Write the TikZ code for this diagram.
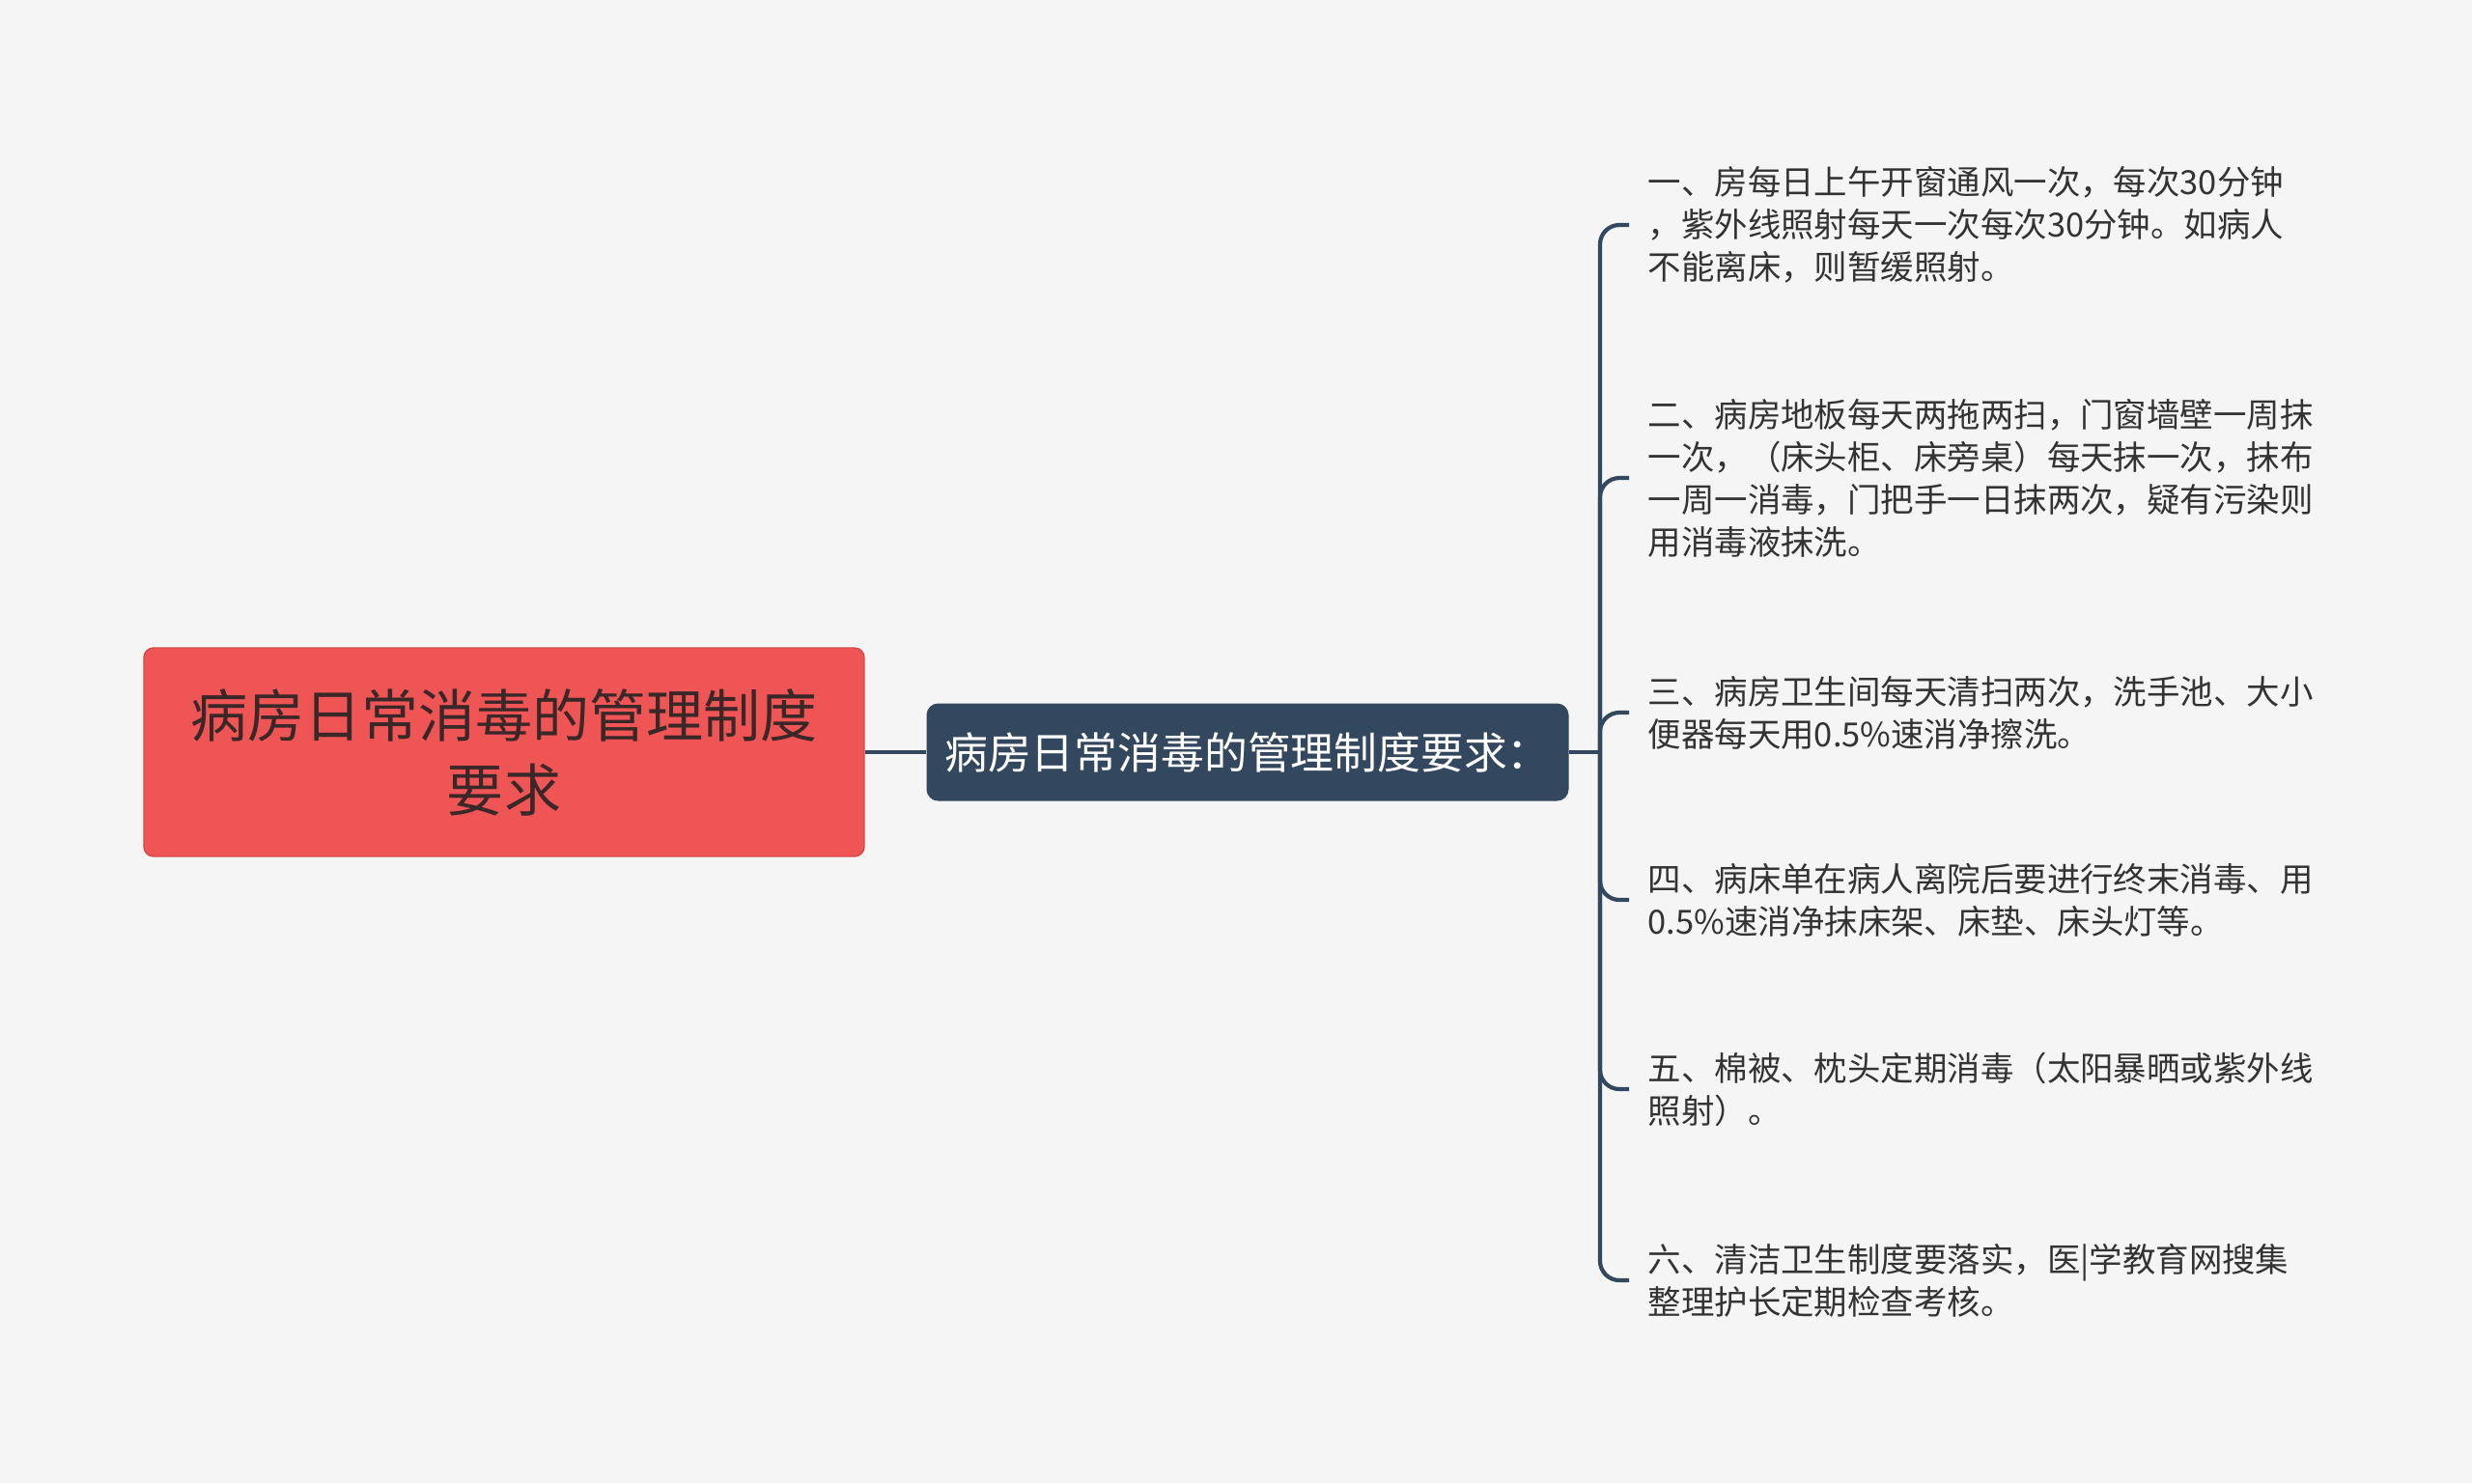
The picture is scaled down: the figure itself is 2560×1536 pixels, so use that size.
\documentclass[tikz,border=0pt]{standalone}
\usepackage{fontspec}
\setmainfont{Noto Sans CJK SC}
\definecolor{bg}{HTML}{F5F5F5}
\definecolor{rootred}{HTML}{F05556}
\definecolor{slate}{HTML}{33485E}
\definecolor{ink}{HTML}{333333}
\definecolor{rootink}{HTML}{3A2728}

\begin{document}
\begin{tikzpicture}[x=0.1mm,y=-0.1mm,
  root/.style={draw=rootred!88!black,fill=rootred,rounded corners=1mm,minimum width=74.6mm,minimum height=21.6mm,align=center,text=rootink,font=\fontsize{16.8pt}{21.9pt}\selectfont},
  topic/.style={fill=slate,rounded corners=1.2mm,minimum width=66.5mm,minimum height=10.1mm,text=white,font=\fontsize{12.75pt}{15pt}\selectfont},
  leaf/.style={anchor=west,align=left,inner xsep=1.9mm,text=ink,font=\fontsize{9.8pt}{12.5pt}\selectfont},
  link/.style={draw=slate,line width=1.2pt},
  branch/.style={link,rounded corners=2mm}]
\fill[bg] (0,0) rectangle (2560,1536);
\useasboundingbox (0,0) rectangle (2560,1536);

\node [root] (rules) at (522,779) {病房日常消毒的管理制度\\要求};
\node [topic] (needs) at (1292,779) {病房日常消毒的管理制度要求：};
\coordinate (hub) at (1657,779);

\node [leaf] (one) at (1687,233) {一、房每日上午开窗通风一次，每次30分钟\\，紫外线照射每天一次每次30分钟。如病人\\不能离床，则暂缓照射。};
\node [leaf] (two) at (1687,495) {二、病房地板每天两拖两扫，门窗墙壁一周抹\\一次，（床头柜、床旁桌）每天抹一次，抹布\\一周一消毒，门把手一日抹两次，疑有污染则\\用消毒液抹洗。};
\node [leaf] (three) at (1687,738) {三、病房卫生间每天清扫两次，洗手池、大小\\便器每天用0.5\%速消净擦洗。};
\node [leaf] (four) at (1687,932) {四、病床单在病人离院后要进行终末消毒、用\\0.5\%速消净抹床架、床垫、床头灯等。};
\node [leaf] (five) at (1687,1128) {五、棉被、枕头定期消毒（太阳暴晒或紫外线\\照射）。};
\node [leaf] (six) at (1687,1326) {六、清洁卫生制度要落实，医|学教育网搜集\\整理护长定期检查考核。};

\draw [link] (rules.east) -- (needs.west);
\draw [link] (needs.east) -- (hub);
\draw [branch] (hub) |- (one.west);
\draw [branch] (hub) |- (two.west);
\draw [branch] (hub) |- (three.west);
\draw [branch] (hub) |- (four.west);
\draw [branch] (hub) |- (five.west);
\draw [branch] (hub) |- (six.west);
\end{tikzpicture}
\end{document}
